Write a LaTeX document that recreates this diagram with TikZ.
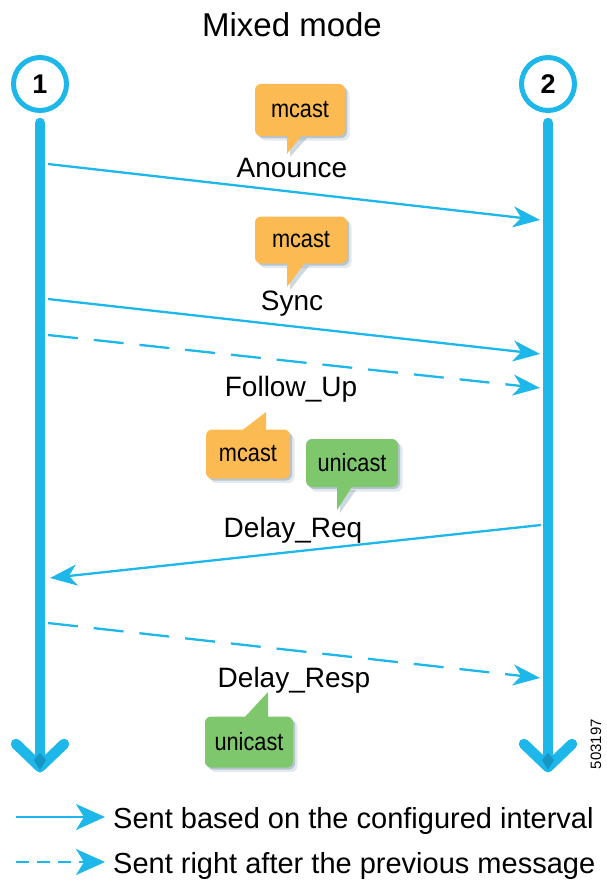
\documentclass[tikz,border=0pt]{standalone}
\usepackage{fontspec}
\setmainfont{Liberation Sans}
\newfontfamily\bubblefont[FakeStretch=0.87]{Liberation Sans}
\usetikzlibrary{arrows.meta,shadows,calc}
\definecolor{cyanc}{RGB}{29,183,234}
\definecolor{orangec}{RGB}{251,186,82}
\definecolor{greenc}{RGB}{127,199,108}
\definecolor{shadowc}{RGB}{60,100,130}
\definecolor{tipc}{RGB}{15,110,150}
\begin{document}
\begin{tikzpicture}[x=1pt,y=-1pt,
  lifeline/.style={cyanc, line width=10.5pt, line cap=round, line join=round},
  endpoint/.style={circle, draw=cyanc, line width=5pt, minimum size=53pt, inner sep=0pt, fill=white,
    font=\fontsize{27}{27}\selectfont\bfseries},
  msg/.style={cyanc, line width=2.3pt, -{Stealth[length=27pt,width=21pt,inset=8pt]}},
  later/.style={msg, dash pattern=on 30pt off 16pt},
  legarrow/.style={cyanc, line width=2.3pt, -{Stealth[length=29pt,width=26pt,inset=8pt]}},
  leglater/.style={legarrow, dash pattern=on 13pt off 8pt},
  msglabel/.style={font=\fontsize{28}{30}\selectfont, anchor=base, inner sep=0pt},
  legtext/.style={font=\fontsize{29}{31}\selectfont, anchor=base west, inner sep=0pt},
  bubble/.style={rounded corners=6pt, inner sep=0pt, font=\bubblefont\fontsize{25}{25}\selectfont,
    drop shadow={shadow xshift=2pt,shadow yshift=-2pt,opacity=.28,fill=shadowc},
    drop shadow={shadow xshift=4.5pt,shadow yshift=-4.5pt,opacity=.14,fill=shadowc}},
  mbubble/.style={bubble, fill=orangec},
  ububble/.style={bubble, fill=greenc},
  tailshadow/.style={fill=shadowc, opacity=.25},
]
\useasboundingbox (0,0) rectangle (607,888);

% title
\node[font=\fontsize{33}{35}\selectfont, anchor=base, inner sep=0pt] (title) at (292,37) {Mixed mode};

% lifelines
\coordinate (l1top) at (40,123);
\coordinate (l1bot) at (40,767);
\coordinate (l2top) at (548,123);
\coordinate (l2bot) at (548,767);
\draw[lifeline] (l1top) -- (l1bot);
\draw[lifeline] (l2top) -- (l2bot);
\coordinate (a1l) at (16,744);
\coordinate (a1r) at (64,744);
\coordinate (a2l) at (524,744);
\coordinate (a2r) at (572,744);
\draw[lifeline] (a1l) -- (l1bot) -- (a1r);
\draw[lifeline] (a2l) -- (l2bot) -- (a2r);
\fill[tipc, opacity=.45] (40,753) -- (46,760) -- (40,770) -- (34,760) -- cycle;
\fill[tipc, opacity=.45] (548,753) -- (554,760) -- (548,770) -- (542,760) -- cycle;

\node[endpoint] (n1) at (40,84) {1};
\node[endpoint] (n2) at (548,84) {2};

% message end points
\coordinate (s1) at (48,164);   \coordinate (e1) at (540,220);
\coordinate (s2) at (48,299);   \coordinate (e2) at (540,354);
\coordinate (s3) at (48,335);   \coordinate (e3) at (540,388);
\coordinate (s4) at (541,525);  \coordinate (e4) at (50,578);
\coordinate (s5) at (48,623);   \coordinate (e5) at (540,678);

\draw[msg] (s1) -- (e1);
\draw[msg] (s2) -- (e2);
\draw[later] (s3) -- (e3);
\draw[msg] (s4) -- (e4);
\draw[later] (s5) -- (e5);

% labels
\node[msglabel] (lab1) at (292,177) {Anounce};
\node[msglabel] (lab2) at (292,310) {Sync};
\node[msglabel] (lab3) at (291,396) {Follow\_Up};
\node[msglabel] (lab4) at (293,537) {Delay\_Req};
\node[msglabel] (lab5) at (294,687) {Delay\_Resp};

% bubble 1
\fill[tailshadow] (290,138) -- (290,157) -- (307,138) -- cycle;
\node[mbubble, minimum width=90pt, minimum height=52pt] (b1) at (300,110) {mcast};
\fill[orangec] (287,132) -- (287,154) -- (304,132) -- cycle;

% bubble 2
\fill[tailshadow] (290,266) -- (290,290) -- (309,266) -- cycle;
\node[mbubble, minimum width=92pt, minimum height=47pt] (b2) at (301,240) {mcast};
\fill[orangec] (287,261) -- (287,287) -- (306,261) -- cycle;

% bubble 3
\node[mbubble, minimum width=84pt, minimum height=49pt] (b3) at (248,454) {mcast};
\fill[orangec] (240,432) -- (266,412) -- (266,432) -- cycle;

% bubble 4
\fill[tailshadow] (340,490) -- (340,513) -- (356,490) -- cycle;
\node[ububble, minimum width=92pt, minimum height=48pt] (b4) at (352,463) {unicast};
\fill[greenc] (337,485) -- (337,510) -- (353,485) -- cycle;

% bubble 5
\node[ububble, minimum width=88pt, minimum height=51pt] (b5) at (249,742) {unicast};
\fill[greenc] (243,719) -- (268,692) -- (268,719) -- cycle;

% figure number
\node[rotate=90, font=\fontsize{15}{15}\selectfont, inner sep=0pt] (fignum) at (596,744) {503197};

% legend
\coordinate (ls1) at (16,817);  \coordinate (le1) at (105,817);
\coordinate (ls2) at (16,862);  \coordinate (le2) at (105,862);
\draw[legarrow] (ls1) -- (le1);
\draw[leglater] (ls2) -- (le2);
\node[legtext] (lt1) at (113,828) {Sent based on the configured interval};
\node[legtext] (lt2) at (113,873) {Sent right after the previous message};
\end{tikzpicture}
\end{document}
